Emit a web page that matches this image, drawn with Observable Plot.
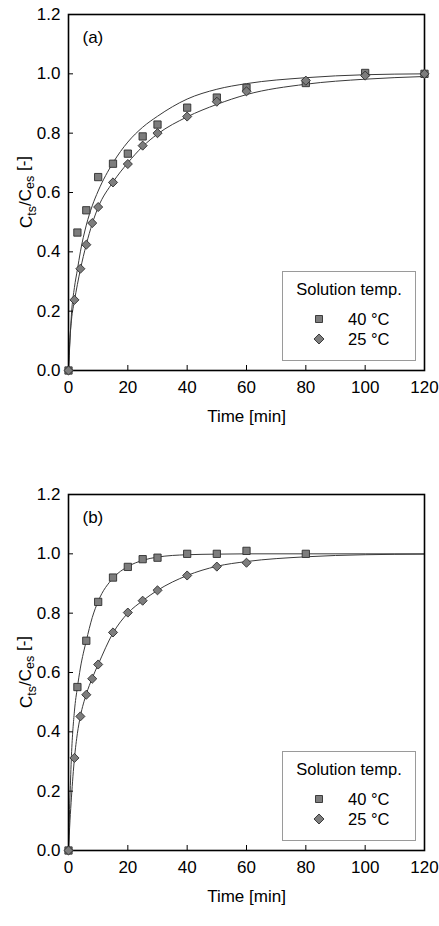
<!DOCTYPE html>
<html>
<head>
<meta charset="utf-8">
<script src="https://cdn.jsdelivr.net/npm/d3@7"></script>
<script src="https://cdn.jsdelivr.net/npm/@observablehq/plot@0.6"></script>
<style>
  body { margin: 0; background: #fff; font-family: "Liberation Sans", Arial, sans-serif; }
  .panel { position: relative; width: 439px; }
  .panel svg { display: block; }
  .legend { position: absolute; left: 282px; width: 134px; height: 90px; box-sizing: border-box;
            border: 1px solid #9a9a9a; background: #fff; font-size: 16.5px; color: #000; }
  .legend .ttl { position: absolute; left: 0; width: 100%; text-align: center; top: 8px; line-height: 18px; }
  .legend .row { position: absolute; left: 0; width: 100%; height: 18px; line-height: 18px; }
  .legend .row svg { position: absolute; left: 29px; top: 2px; }
  .legend .row span { position: absolute; left: 65px; }
</style>
</head>
<body>
<div id="chart"></div>
<script>
// ---- data ----
const xTicks = [0, 20, 40, 60, 80, 100, 120];
const yTicks = [0, 0.2, 0.4, 0.6, 0.8, 1.0, 1.2];
const seriesNames = ["40 °C", "25 °C"];
const panelLabels = ["(a)", "(b)"];

// panel (a) measured points
const time40a = [0, 3, 6, 10, 15, 20, 25, 30, 40, 50, 60, 80, 100, 120];
const val40a  = [0, 0.465, 0.54, 0.652, 0.697, 0.731, 0.789, 0.829, 0.886, 0.92, 0.953, 0.969, 1.003, 1.0];
const time25a = [0, 2, 4, 6, 8, 10, 15, 20, 25, 30, 40, 50, 60, 80, 100, 120];
const val25a  = [0, 0.238, 0.343, 0.424, 0.497, 0.551, 0.634, 0.696, 0.758, 0.80, 0.856, 0.906, 0.941, 0.977, 0.994, 1.0];

// panel (b) measured points
const time40b = [0, 3, 6, 10, 15, 20, 25, 30, 40, 50, 60, 80];
const val40b  = [0, 0.551, 0.707, 0.838, 0.92, 0.956, 0.982, 0.987, 1.0, 1.0, 1.01, 1.0];
const time25b = [0, 2, 4, 6, 8, 10, 15, 20, 25, 30, 40, 50, 60];
const val25b  = [0, 0.312, 0.452, 0.525, 0.579, 0.627, 0.735, 0.802, 0.842, 0.877, 0.927, 0.957, 0.970];

// fitted curves
const fitTime = [0, 0.5, 1, 2, 3, 4, 6, 8, 10, 15, 20, 25, 30, 40, 50, 60, 80, 100, 120];
const fit40a  = [0, 0.10, 0.19, 0.28, 0.34, 0.40, 0.49, 0.555, 0.605, 0.70, 0.77, 0.82, 0.857, 0.915, 0.948, 0.967, 0.987, 0.997, 1.0];
const fit25a  = [0, 0.11, 0.17, 0.235, 0.29, 0.34, 0.425, 0.495, 0.55, 0.635, 0.70, 0.755, 0.797, 0.855, 0.897, 0.93, 0.965, 0.982, 0.991];
const fit40b  = [0, 0.18, 0.32, 0.47, 0.55, 0.615, 0.707, 0.785, 0.84, 0.918, 0.957, 0.978, 0.989, 0.997, 0.999, 1.0, 1.0, 1.0, 1.0];
const fit25b  = [0, 0.10, 0.18, 0.31, 0.395, 0.452, 0.527, 0.581, 0.627, 0.733, 0.80, 0.842, 0.877, 0.927, 0.958, 0.974, 0.99, 0.997, 0.999];

// ---- drawing ----
const FONT = "'Liberation Sans', Arial, sans-serif";
const FS = 17;
const rows = (ts, vs) => ts.map((t, i) => ({t, v: vs[i]}));
const markFill = "#7d7d7d", markStroke = "#2e2e2e", lineStroke = "#3a3a3a";

function makePanel(label, t40, v40, t25, v25, f40, f25, height) {
  const wrap = document.createElement("div");
  wrap.className = "panel";
  const plot = Plot.plot({
    width: 439, height,
    marginLeft: 68, marginRight: 15, marginTop: 14, marginBottom: height - 370,
    style: {fontFamily: FONT, fontSize: FS + "px", background: "white", color: "#000", overflow: "visible"},
    x: {domain: [0, 120]},
    y: {domain: [0, 1.2]},
    marks: [
      Plot.line(rows(fitTime, f40), {x: "t", y: "v", stroke: lineStroke, strokeWidth: 1, curve: "monotone-x"}),
      Plot.line(rows(fitTime, f25), {x: "t", y: "v", stroke: lineStroke, strokeWidth: 1, curve: "monotone-x"}),
      Plot.axisX({ticks: xTicks, tickSize: -5, tickPadding: 15, label: null, stroke: "#000", fill: "#000", fontSize: FS}),
      Plot.axisY({ticks: yTicks, tickSize: -5, tickPadding: 13, tickFormat: d3.format(".1f"), label: null, stroke: "#000", fill: "#000", fontSize: FS}),
      Plot.frame({stroke: "#000", strokeWidth: 1.6}),
      Plot.dot(rows(t40, v40), {x: "t", y: "v", symbol: "square", r: 4.1, fill: markFill, stroke: markStroke, strokeWidth: 0.9}),
      Plot.dot(rows(t25, v25), {x: "t", y: "v", symbol: "diamond2", r: 4.1, fill: markFill, stroke: markStroke, strokeWidth: 0.9}),
      Plot.text([label], {frameAnchor: "top-left", textAnchor: "start", lineAnchor: "middle", dx: 14, dy: 23, fill: "#000", fontSize: FS}),
      Plot.text(["Time [min]"], {frameAnchor: "bottom", textAnchor: "middle", lineAnchor: "middle", dy: 46, fill: "#000", fontSize: FS})
    ]
  });
  // y axis label with subscripts
  const svg = d3.select(plot);
  const t = svg.append("text")
    .attr("transform", `translate(32,${(14 + 370) / 2}) rotate(-90)`)
    .attr("text-anchor", "middle")
    .style("font-family", FONT)
    .attr("font-size", FS)
    .attr("fill", "#000");
  t.append("tspan").text("C");
  t.append("tspan").attr("dy", "0.3em").attr("font-size", 12.5).text("ts");
  t.append("tspan").attr("dy", "-0.3em").text("/C");
  t.append("tspan").attr("dy", "0.3em").attr("font-size", 12.5).text("es");
  t.append("tspan").attr("dy", "-0.3em").text(" [-]");
  wrap.appendChild(plot);

  // legend
  const leg = document.createElement("div");
  leg.className = "legend";
  leg.style.top = "271px";
  const ttl = document.createElement("div");
  ttl.className = "ttl";
  ttl.textContent = "Solution temp.";
  leg.appendChild(ttl);
  const syms = [[d3.symbolSquare, 49], [d3.symbolDiamond2, 64]];
  seriesNames.forEach((name, i) => {
    const row = document.createElement("div");
    row.className = "row";
    row.style.top = (38 + i * 20) + "px";
    const s = d3.create("svg").attr("width", 14).attr("height", 14);
    s.append("path")
      .attr("transform", "translate(7,7)")
      .attr("d", d3.symbol().type(syms[i][0]).size(syms[i][1])())
      .attr("fill", markFill).attr("stroke", markStroke).attr("stroke-width", 0.9);
    row.appendChild(s.node());
    const sp = document.createElement("span");
    sp.textContent = name;
    row.appendChild(sp);
    leg.appendChild(row);
  });
  wrap.appendChild(leg);
  return wrap;
}

const chart = document.getElementById("chart");
chart.appendChild(makePanel(panelLabels[0], time40a, val40a, time25a, val25a, fit40a, fit25a, 480));
chart.appendChild(makePanel(panelLabels[1], time40b, val40b, time25b, val25b, fit40b, fit25b, 446));
</script>
</body>
</html>
